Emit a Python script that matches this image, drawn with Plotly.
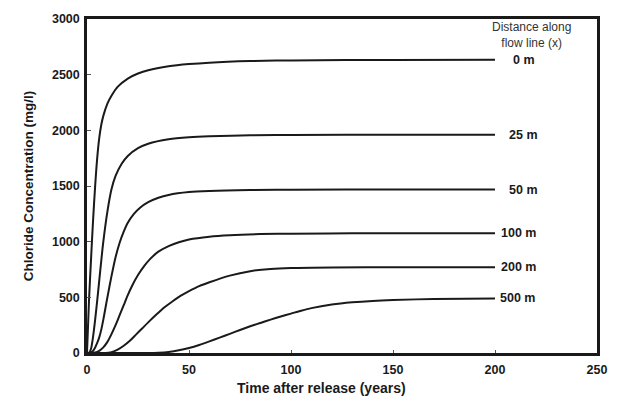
import plotly.graph_objects as go

# ---- data ----
labels = ["0 m", "25 m", "50 m", "100 m", "200 m", "500 m"]

t_0m = [0, 1, 2, 3, 4, 5, 6, 7, 8, 10, 12, 15, 20, 25, 30, 40, 50, 60, 80, 100, 150, 200]
c_0m = [0, 480, 850, 1200, 1500, 1750, 1930, 2050, 2130, 2240, 2310, 2390, 2465, 2510, 2540, 2575, 2595, 2608, 2622, 2628, 2632, 2633]

t_25m = [0, 1, 2, 3, 4, 5, 6, 7, 8, 10, 12, 14, 17, 20, 25, 30, 40, 50, 60, 80, 100, 150, 200]
c_25m = [0, 0, 40, 150, 300, 470, 650, 830, 1000, 1270, 1470, 1590, 1700, 1770, 1840, 1880, 1920, 1938, 1947, 1955, 1958, 1960, 1960]

t_50m = [0, 2, 3, 4, 5, 6, 7, 8, 9, 10, 12, 14, 16, 18, 20, 23, 26, 30, 35, 40, 50, 60, 80, 100, 150, 200]
c_50m = [0, 5, 20, 50, 90, 140, 210, 300, 400, 500, 690, 860, 990, 1090, 1170, 1250, 1305, 1355, 1395, 1420, 1445, 1455, 1464, 1467, 1468, 1468]

t_100m = [0, 4, 6, 8, 10, 12, 14, 16, 18, 20, 22, 25, 28, 31, 35, 40, 45, 50, 60, 70, 85, 100, 130, 200]
c_100m = [0, 5, 20, 50, 100, 170, 250, 340, 430, 520, 600, 700, 780, 845, 910, 960, 995, 1020, 1045, 1058, 1068, 1072, 1075, 1075]

t_200m = [0, 9, 12, 15, 18, 21, 24, 27, 30, 34, 38, 42, 46, 50, 55, 60, 70, 80, 90, 100, 120, 150, 200]
c_200m = [0, 0, 8, 30, 65, 110, 165, 220, 275, 345, 410, 465, 515, 555, 600, 635, 695, 735, 755, 764, 769, 770, 770]

t_500m = [0, 30, 35, 40, 45, 50, 55, 60, 65, 70, 75, 80, 85, 90, 95, 100, 105, 110, 120, 130, 140, 150, 170, 200]
c_500m = [0, 0, 3, 10, 24, 45, 72, 104, 138, 172, 207, 240, 270, 300, 328, 354, 380, 403, 435, 455, 468, 476, 485, 490]

x_ticks = [0, 50, 100, 150, 200, 250]
y_ticks = [0, 500, 1000, 1500, 2000, 2500, 3000]

series_t = [t_0m, t_25m, t_50m, t_100m, t_200m, t_500m]
series_c = [c_0m, c_25m, c_50m, c_100m, c_200m, c_500m]
label_shift = [16, 12, 12, 4, 4, 3]

FONT = "Liberation Sans, Arial, sans-serif"
INK = "#1a1a1a"

fig = go.Figure()
for name, tt, cc in zip(labels, series_t, series_c):
    fig.add_trace(go.Scatter(x=tt, y=cc, mode="lines", name=name,
                             line=dict(color=INK, width=2, shape="spline", smoothing=0.8),
                             showlegend=False, hoverinfo="skip"))

for name, tt, cc, sh in zip(labels, series_t, series_c, label_shift):
    fig.add_annotation(x=tt[-1], y=cc[-1], text="<b>%s</b>" % name, showarrow=False,
                       xanchor="left", yanchor="middle", xshift=sh,
                       font=dict(family=FONT, size=12.5, color=INK))

fig.add_annotation(x=218, y=2855, text="Distance along<br>flow line (x)", showarrow=False,
                   xanchor="center", yanchor="middle", align="center",
                   font=dict(family=FONT, size=12, color="#333"))

fig.add_annotation(x=115, y=-0.105, yref="paper", text="<b>Time after release (years)</b>",
                   showarrow=False, xanchor="center", yanchor="middle",
                   font=dict(family=FONT, size=14, color=INK))

fig.update_layout(
    width=623, height=396,
    margin=dict(l=87, r=26, t=17, b=43),
    paper_bgcolor="white", plot_bgcolor="white",
    font=dict(family=FONT, size=12.5, color=INK),
)
fig.update_xaxes(range=[0, 250], tickvals=x_ticks, ticktext=["<b>%d</b>" % v for v in x_ticks],
                 ticks="inside", ticklen=3, tickcolor="#555", showgrid=False, zeroline=False,
                 showline=True, linecolor=INK, linewidth=2.5, mirror=True, ticklabelstandoff=3,
                 tickfont=dict(family=FONT, size=12.5, color=INK))
fig.update_yaxes(range=[0, 3000], tickvals=y_ticks, ticktext=["<b>%d</b>" % v for v in y_ticks],
                 ticks="inside", ticklen=4, tickcolor="#555", showgrid=False, zeroline=False,
                 showline=True, linecolor=INK, linewidth=2.5, mirror=True, ticklabelstandoff=2,
                 tickfont=dict(family=FONT, size=12.5, color=INK),
                 title=dict(text="<b>Chloride Concentration (mg/l)</b>", standoff=16,
                            font=dict(family=FONT, size=13.5, color=INK)))

fig.write_html("out.html")
